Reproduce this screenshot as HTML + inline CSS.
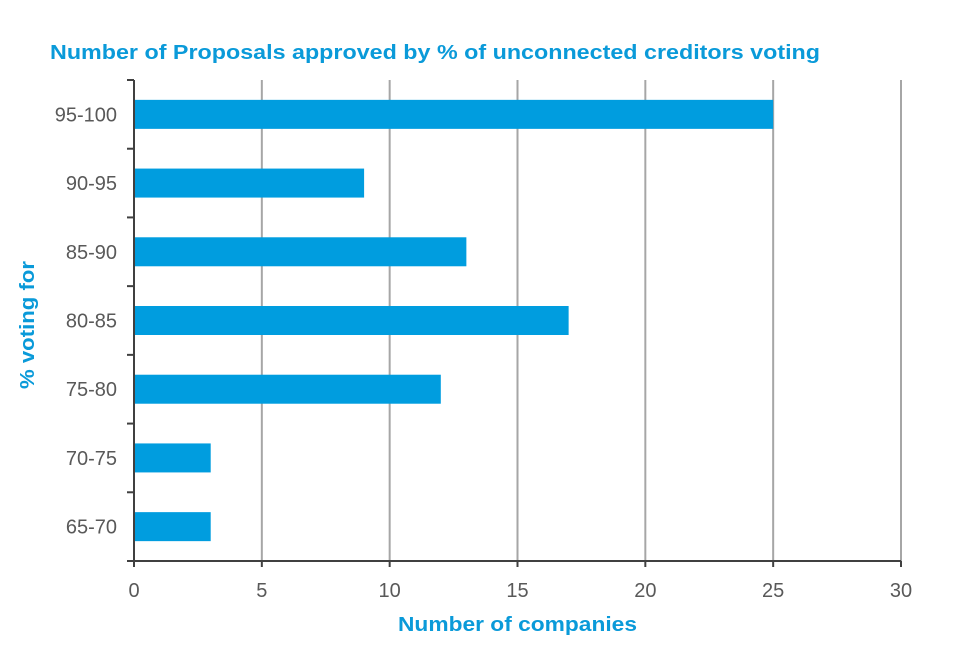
<!DOCTYPE html>
<html><head><meta charset="utf-8"><style>
body{margin:0;background:#fff;font-family:"Liberation Sans",Arial,sans-serif}
</style></head><body>
<svg width="960" height="640" xmlns="http://www.w3.org/2000/svg">
<text x="50" y="59" font-size="20" font-weight="bold" fill="#0a9ad9" textLength="770" lengthAdjust="spacingAndGlyphs">Number of Proposals approved by % of unconnected creditors voting</text>
<g id="grid"></g><g id="bars"></g><g id="axes"></g>
<text x="398" y="631" font-size="20" font-weight="bold" fill="#0a9ad9" textLength="239" lengthAdjust="spacingAndGlyphs">Number of companies</text>
<text transform="translate(34,389) rotate(-90)" font-size="20" font-weight="bold" fill="#0a9ad9" textLength="128" lengthAdjust="spacingAndGlyphs">% voting for</text>
</svg>
<script>
const categories=["95-100","90-95","85-90","80-85","75-80","70-75","65-70"];
const values=[25,9,13,17,12,3,3];
const xTicks=[0,5,10,15,20,25,30];
const NS="http://www.w3.org/2000/svg";
const L=134,R=901,T=80,B=561,xMax=30;
const x=v=>L+(R-L)*v/xMax;
const band=(B-T)/categories.length;
const y=i=>T+band*i;
function mk(t,a,p){const e=document.createElementNS(NS,t);for(const k in a)e.setAttribute(k,a[k]);p.appendChild(e);return e;}
const grid=document.getElementById('grid'),bars=document.getElementById('bars'),axes=document.getElementById('axes');
xTicks.forEach(v=>{
 if(v>0){const g=mk('line',{x1:x(v),x2:x(v),y1:T,y2:B,stroke:'#a6a6a6','stroke-width':2},grid);
 
 }
 const tk=mk('line',{x1:x(v),x2:x(v),y1:B,y2:B+6,stroke:'#404040','stroke-width':2},axes);
 
 
 const t=mk('text',{x:x(v),y:597,'text-anchor':'middle','font-size':20,fill:'#595959'},axes);
 t.textContent=v;
 
 
});
categories.forEach((c,i)=>{
 const h=29,cy=y(i)+band/2;
 const r=mk('rect',{x:L,y:cy-h/2,width:x(values[i])-L,height:h,fill:'#009ddf'},bars);
 
 
 const t=mk('text',{x:117,y:cy+7,'text-anchor':'end','font-size':20,fill:'#595959'},axes);
 t.textContent=c;
 
 
});
for(let i=0;i<=categories.length;i++){
 const tk=mk('line',{x1:127,x2:L,y1:y(i),y2:y(i),stroke:'#404040','stroke-width':2},axes);
 
 
}
const ya=mk('line',{x1:L,x2:L,y1:T,y2:B,stroke:'#404040','stroke-width':2},axes);


const xa=mk('line',{x1:L,x2:R,y1:B,y2:B,stroke:'#404040','stroke-width':2},axes);


</script>
</body></html>
